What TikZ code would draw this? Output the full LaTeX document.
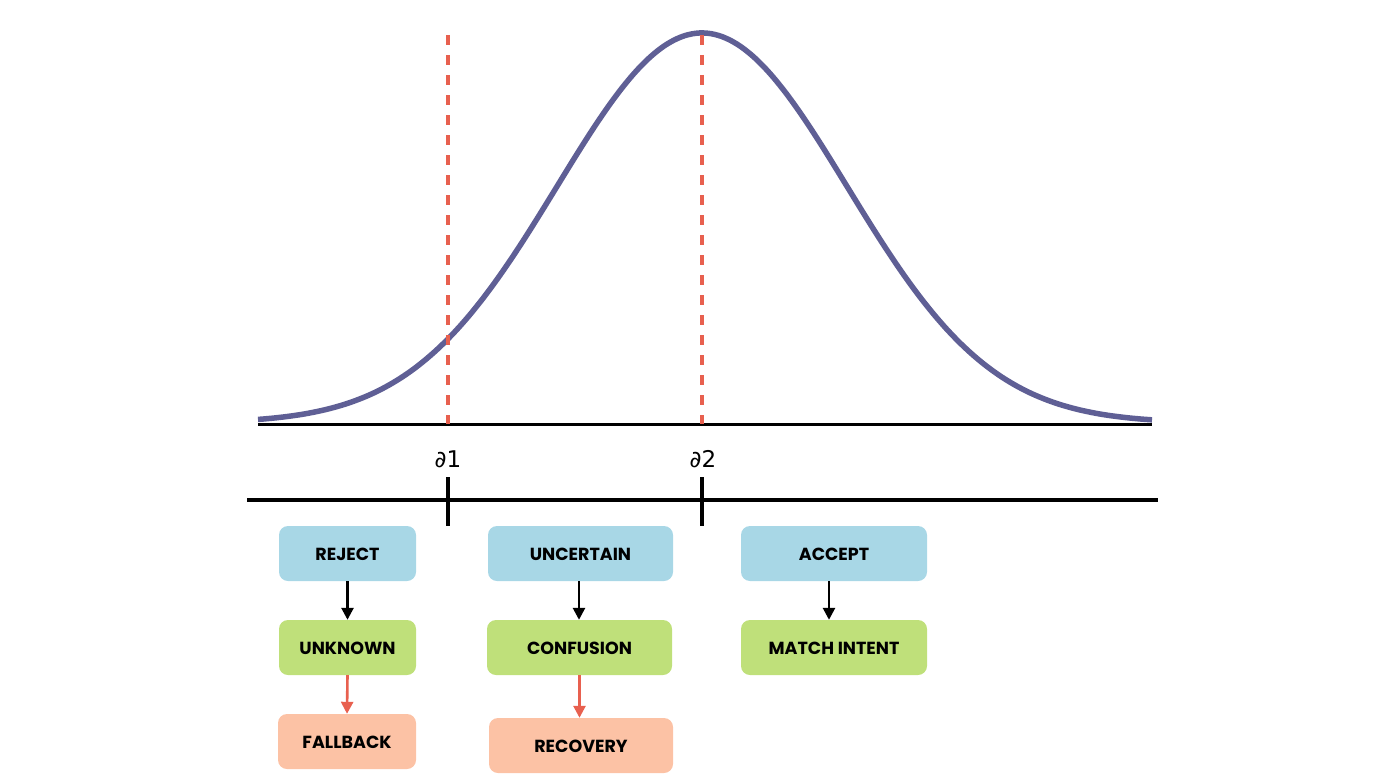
\documentclass[tikz,border=0pt]{standalone}
\usepackage{fontspec}
\setmainfont{Poppins}
\newfontfamily\symfont{DejaVu Sans}
\usetikzlibrary{arrows.meta}
\definecolor{boxblue}{HTML}{A8D7E6}
\definecolor{boxgreen}{HTML}{BFE07A}
\definecolor{boxsalmon}{HTML}{FCC2A5}
\definecolor{dashred}{HTML}{E8604F}
\definecolor{curveblue}{HTML}{5F5F95}
\tikzset{
  stage/.style={rounded corners=9pt, draw=none, inner sep=0pt, align=center,
    text depth=0pt, text height=13pt,
    font=\fontsize{17.5}{17.5}\selectfont\bfseries},
  bluebox/.style={stage, fill=boxblue},
  greenbox/.style={stage, fill=boxgreen},
  salmonbox/.style={stage, fill=boxsalmon},
  flowarrow/.style={line width=2.6pt, -{Triangle[length=12pt,width=12pt]}},
  threshold/.style={dashred, line width=4.5pt, dash pattern=on 10pt off 10pt},
  tick/.style={line width=4pt},
  dlabel/.style={font=\symfont\fontsize{23}{23}\selectfont, inner sep=0pt}
}
\begin{document}
\begin{tikzpicture}[x=1pt,y=-1pt]
\useasboundingbox (0,0) rectangle (1400,784);
% baseline and curve
\coordinate (bl) at (258,424);
\coordinate (br) at (1152,424);
\draw[line width=3pt] (bl) -- (br);
\draw[curveblue, line width=5.5pt, domain=258:1152, samples=240, smooth]
  plot (\x, {423 - 390*exp(-0.5*((\x-702)/145)^2)});
% thresholds
\coordinate (t1top) at (448,35);
\coordinate (t1bot) at (448,424);
\coordinate (t2top) at (702,35);
\coordinate (t2bot) at (702,424);
\draw[threshold] (t1top) -- (t1bot);
\draw[threshold] (t2top) -- (t2bot);
% axis
\coordinate (al) at (247,500);
\coordinate (ar) at (1158,500);
\draw[line width=4.5pt] (al) -- (ar);
\coordinate (k1a) at (448,477);
\coordinate (k1b) at (448,526);
\coordinate (k2a) at (702,477);
\coordinate (k2b) at (702,526);
\draw[tick] (k1a) -- (k1b);
\draw[tick] (k2a) -- (k2b);
\node[dlabel] (d1) at (448,459) {∂1};
\node[dlabel] (d2) at (703,459) {∂2};
% boxes
\node[bluebox, minimum width=137pt, minimum height=55pt] (reject) at (347.5,553.5) {REJECT};
\node[greenbox, minimum width=137pt, minimum height=55pt] (unknown) at (347.5,647.5) {UNKNOWN};
\node[salmonbox, minimum width=138pt, minimum height=55pt] (fallback) at (347,741.5) {FALLBACK};
\node[bluebox, minimum width=185pt, minimum height=55pt] (uncertain) at (580.5,553.5) {UNCERTAIN};
\node[greenbox, minimum width=185pt, minimum height=55pt] (confusion) at (579.5,647.5) {CONFUSION};
\node[salmonbox, minimum width=184pt, minimum height=55pt] (recovery) at (581,745.5) {RECOVERY};
\node[bluebox, minimum width=186pt, minimum height=55pt] (accept) at (834,553.5) {ACCEPT};
\node[greenbox, minimum width=186pt, minimum height=55pt] (match) at (834,647.5) {MATCH INTENT};
% arrows
\draw[flowarrow] (reject.south) -- (unknown.north);
\draw[flowarrow, dashred] (unknown.south) -- (fallback.north);
\draw[flowarrow] ([xshift=-1.5pt]uncertain.south) -- ([xshift=-0.5pt]confusion.north);
\draw[flowarrow, dashred] (confusion.south) -- ([xshift=-1.5pt]recovery.north);
\draw[flowarrow] ([xshift=-5pt]accept.south) -- ([xshift=-5pt]match.north);
\end{tikzpicture}
\end{document}
